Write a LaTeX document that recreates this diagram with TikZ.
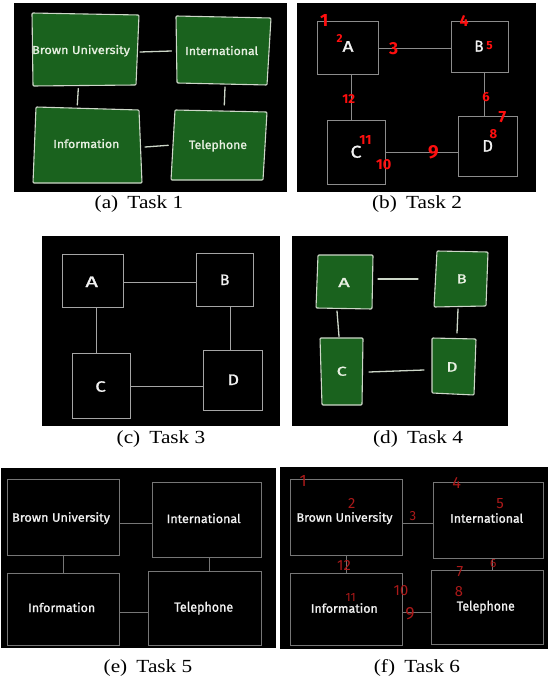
\documentclass[tikz,border=0pt]{standalone}
\usepackage{fontspec}
\setmainfont{Liberation Serif}
\newfontfamily\lblfont{Fira Sans}[FakeBold=1.2]
\newfontfamily\numfont{Fira Sans}
\definecolor{boardgreen}{RGB}{26,98,30}
\definecolor{chalk}{RGB}{205,215,200}
\definecolor{chalktext}{RGB}{232,240,226}
\definecolor{wireb}{RGB}{140,140,140}
\definecolor{wirec}{RGB}{165,165,165}
\definecolor{wiree}{RGB}{118,118,118}
\definecolor{penb}{RGB}{255,15,15}
\definecolor{penf}{RGB}{170,25,25}
\newcommand\fitlbl[3]{\resizebox{#1pt}{#2pt}{\lblfont #3}}
\newcommand\hnum[2]{\resizebox{!}{#1pt}{\numfont\bfseries #2}}
\newcommand\tnum[2]{\resizebox{!}{#1pt}{\numfont #2}}
\newcommand\capt[1]{\scalebox{1.15}[1]{\fontsize{18.5}{20}\selectfont #1}}
\tikzset{
  panel/.style={fill=black, draw=none},
  greenbox/.style={fill=boardgreen, draw=chalk, line width=1.1pt, line join=round, rounded corners=1pt},
  chalkline/.style={draw=chalk, line width=1.3pt, line cap=round},
  wirebox/.style={draw=wireb, line width=0.8pt, inner sep=0pt, outer sep=0pt},
  wireline/.style={draw=wireb, line width=0.8pt},
  wireboxc/.style={draw=wirec, line width=1pt, inner sep=0pt, outer sep=0pt},
  wirelinec/.style={draw=wirec, line width=1pt},
  wireboxe/.style={draw=wiree, line width=1pt, inner sep=0pt, outer sep=0pt},
  wirelinee/.style={draw=wiree, line width=1pt},
  lbl/.style={inner sep=0pt, anchor=base, text=chalktext},
  wlbl/.style={inner sep=0pt, anchor=base, text=white!90!gray},
  rednum/.style={inner sep=0pt, text=penb},
  thinnum/.style={inner sep=0pt, text=penf},
  capnode/.style={inner sep=0pt, anchor=base},
}
\begin{document}
\begin{tikzpicture}[x=1pt,y=-1pt]
\useasboundingbox (0,0) rectangle (550,679);
\fill[white] (0,0) rectangle (550,679);
% panel backgrounds
\fill[panel] (14,3) rectangle (287,192);
\fill[panel] (297,3) rectangle (536,192);
\fill[panel] (42,236) rectangle (280,426);
\fill[panel] (292,236) rectangle (508,426);
\fill[panel] (1,468) rectangle (276,648);
\fill[panel] (280,467) rectangle (548,649);

% ---------------- (a) Task 1
\draw[greenbox] (32,13) -- (139,15) -- (136,85) -- (33,86) -- cycle;
\draw[greenbox] (176,16) -- (271,18) -- (267,85) -- (177,83) -- cycle;
\draw[greenbox] (36,107) -- (139,110) -- (142,183) -- (33,183) -- cycle;
\draw[greenbox] (175,110) -- (267,112) -- (263,180) -- (171,180) -- cycle;
\node[lbl] (aBU) at (81,54) {\fitlbl{98}{9}{Brown University}};
\node[lbl] (aIN) at (221.7,55) {\fitlbl{73}{9}{International}};
\node[lbl] (aIF) at (86.3,148) {\fitlbl{66}{9}{Information}};
\node[lbl] (aTE) at (218,149) {\fitlbl{58}{9}{Telephone}};
\coordinate (a1s) at (140,52);   \coordinate (a1e) at (171.5,51);
\coordinate (a2s) at (78.3,88.5); \coordinate (a2e) at (77.3,105);
\coordinate (a3s) at (225,87);   \coordinate (a3e) at (224.3,105);
\coordinate (a4s) at (145,147);  \coordinate (a4e) at (168.3,145.3);
\draw[chalkline] (a1s) -- (a1e);
\draw[chalkline] (a2s) -- (a2e);
\draw[chalkline] (a3s) -- (a3e);
\draw[chalkline] (a4s) -- (a4e);
\node[capnode] (capa) at (139,208) {\capt{(a)\hspace{8pt}Task 1}};

% ---------------- (b) Task 2
\node[wirebox, minimum width=61pt, minimum height=53pt] (bA) at (347.5,47.5) {};
\node[wirebox, minimum width=57pt, minimum height=51pt] (bB) at (479.5,46.5) {};
\node[wirebox, minimum width=58pt, minimum height=64pt] (bC) at (356,152) {};
\node[wirebox, minimum width=59pt, minimum height=60pt] (bD) at (487.5,146) {};
\draw[wireline] (bA.east |- 0,48) -- (bB.west |- 0,48);
\draw[wireline] (bA.south -| 351,0) -- (bC.north -| 351,0);
\draw[wireline] (bB.south -| 484.5,0) -- (bD.north -| 484.5,0);
\draw[wireline] (bC.east |- 0,152) -- (bD.west |- 0,152);
\node[wlbl] (bAl) at (348,51.7) {\fitlbl{11}{10.5}{A}};
\node[wlbl] (bBl) at (479,51.7) {\fitlbl{9}{11}{B}};
\node[wlbl] (bCl) at (356,157.7) {\fitlbl{11}{12}{C}};
\node[wlbl] (bDl) at (487.7,151.7) {\fitlbl{10.5}{11.5}{D}};
\node[rednum] (b1) at (324.3,20.3) {\hnum{12}{1}};
\node[rednum] (b2) at (339.5,39) {\hnum{8}{2}};
\node[rednum] (b3) at (393.7,48.8) {\hnum{12}{3}};
\node[rednum] (b4) at (464,21) {\hnum{11}{4}};
\node[rednum] (b5) at (489.5,45.8) {\hnum{8}{5}};
\node[rednum] (b6) at (486,97.2) {\hnum{9}{6}};
\node[rednum] (b7) at (502.3,116.8) {\hnum{11}{7}};
\node[rednum] (b8) at (493.5,134) {\hnum{9}{8}};
\node[rednum] (b9) at (433.3,152) {\hnum{13}{9}};
\node[rednum] (b10) at (383.7,165) {\hnum{10}{10}};
\node[rednum] (b11) at (365.5,140.5) {\hnum{9}{11}};
\node[rednum] (b12) at (348.8,98.8) {\hnum{9}{12}};
\node[capnode] (capb) at (417,208) {\capt{(b)\hspace{8pt}Task 2}};

% ---------------- (c) Task 3
\node[wireboxc, minimum width=61pt, minimum height=53pt] (cA) at (92.5,280.5) {};
\node[wireboxc, minimum width=57pt, minimum height=53pt] (cB) at (224.5,279.5) {};
\node[wireboxc, minimum width=58pt, minimum height=65pt] (cC) at (101,385.5) {};
\node[wireboxc, minimum width=59pt, minimum height=60pt] (cD) at (232.5,380) {};
\draw[wirelinec] (cA.east |- 0,282) -- (cB.west |- 0,282);
\draw[wirelinec] (cA.south -| 96,0) -- (cC.north -| 96,0);
\draw[wirelinec] (cB.south -| 230,0) -- (cD.north -| 230,0);
\draw[wirelinec] (cC.east |- 0,386) -- (cD.west |- 0,386);
\node[wlbl] (cAl) at (91.7,287) {\fitlbl{12.5}{10.5}{A}};
\node[wlbl] (cBl) at (224.7,285) {\fitlbl{9.5}{10.5}{B}};
\node[wlbl] (cCl) at (100.5,391.7) {\fitlbl{10.5}{10.5}{C}};
\node[wlbl] (cDl) at (233.3,385) {\fitlbl{11.5}{10.5}{D}};
\node[capnode] (capc) at (161,443) {\capt{(c)\hspace{8pt}Task 3}};

% ---------------- (d) Task 4
\draw[greenbox] (318,255) -- (373,255) -- (372,309) -- (316,308) -- cycle;
\draw[greenbox] (437,251) -- (488,252) -- (486,306) -- (434,307) -- cycle;
\draw[greenbox] (320,338) -- (363,338) -- (362,405) -- (322,405) -- cycle;
\draw[greenbox] (432,338) -- (476,339) -- (474,395) -- (432,393) -- cycle;
\node[lbl] (dAl) at (344,287) {\fitlbl{11.5}{9}{A}};
\node[lbl] (dBl) at (461.7,283.3) {\fitlbl{10}{9}{B}};
\node[lbl] (dCl) at (341.7,375.7) {\fitlbl{10}{9}{C}};
\node[lbl] (dDl) at (452,371.7) {\fitlbl{11}{9.5}{D}};
\coordinate (d1s) at (378,279);  \coordinate (d1e) at (418,279);
\coordinate (d2s) at (337,311);  \coordinate (d2e) at (339,336.5);
\coordinate (d3s) at (458,309);  \coordinate (d3e) at (457,333);
\coordinate (d4s) at (369,372);  \coordinate (d4e) at (424,370);
\draw[chalkline] (d1s) -- (d1e);
\draw[chalkline] (d2s) -- (d2e);
\draw[chalkline] (d3s) -- (d3e);
\draw[chalkline] (d4s) -- (d4e);
\node[capnode] (capd) at (418,443) {\capt{(d)\hspace{8pt}Task 4}};

% ---------------- (e) Task 5
\node[wireboxe, minimum width=112pt, minimum height=76pt] (eBU) at (63,517) {};
\node[wireboxe, minimum width=109pt, minimum height=75pt] (eIN) at (206.5,519.5) {};
\node[wireboxe, minimum width=112pt, minimum height=72pt] (eIF) at (63,609) {};
\node[wireboxe, minimum width=113pt, minimum height=74pt] (eTE) at (204.5,608) {};
\draw[wirelinee] (eBU.east |- 0,523) -- (eIN.west |- 0,523);
\draw[wirelinee] (eBU.south -| 63,0) -- (eIF.north -| 63,0);
\draw[wirelinee] (eIN.south -| 209,0) -- (eTE.north -| 209,0);
\draw[wirelinee] (eIF.east |- 0,612) -- (eTE.west |- 0,612);
\node[wlbl] (eBUl) at (61,521.7) {\fitlbl{98}{9.5}{Brown University}};
\node[wlbl] (eINl) at (203.7,523) {\fitlbl{74}{9.5}{International}};
\node[wlbl] (eIFl) at (61.7,612) {\fitlbl{67}{9.5}{Information}};
\node[wlbl] (eTEl) at (203.7,611.7) {\fitlbl{59}{10}{Telephone}};
\node[capnode] (cape) at (148,672) {\capt{(e)\hspace{8pt}Task 5}};

% ---------------- (f) Task 6
\node[wireboxe, minimum width=112pt, minimum height=76pt] (fBU) at (346,517) {};
\node[wireboxe, minimum width=110pt, minimum height=76pt] (fIN) at (488,520) {};
\node[wireboxe, minimum width=112pt, minimum height=72pt] (fIF) at (346,609) {};
\node[wireboxe, minimum width=112pt, minimum height=74pt] (fTE) at (487,607) {};
\draw[wirelinee] (fBU.east |- 0,523) -- (fIN.west |- 0,523);
\draw[wirelinee] (fBU.south -| 346,0) -- (fIF.north -| 346,0);
\draw[wirelinee] (fIN.south -| 492,0) -- (fTE.north -| 492,0);
\draw[wirelinee] (fIF.east |- 0,612) -- (fTE.west |- 0,612);
\node[wlbl] (fBUl) at (344.5,521.7) {\fitlbl{96}{9.5}{Brown University}};
\node[wlbl] (fINl) at (486.7,522.7) {\fitlbl{73}{9.5}{International}};
\node[wlbl] (fIFl) at (344.3,612.7) {\fitlbl{67}{9.5}{Information}};
\node[wlbl] (fTEl) at (485.8,610.7) {\fitlbl{58}{10}{Telephone}};
\node[thinnum] (f1) at (303.3,481) {\tnum{11}{1}};
\node[thinnum] (f2) at (351.7,503) {\tnum{10}{2}};
\node[thinnum] (f3) at (413,516.5) {\tnum{9}{3}};
\node[thinnum] (f4) at (456.7,483.3) {\tnum{11}{4}};
\node[thinnum] (f5) at (500,503.5) {\tnum{10}{5}};
\node[thinnum] (f6) at (493.3,563.3) {\tnum{8}{6}};
\node[thinnum] (f7) at (460,571.7) {\tnum{10}{7}};
\node[thinnum] (f8) at (459,592) {\tnum{10}{8}};
\node[thinnum] (f9) at (410,613.3) {\tnum{12}{9}};
\node[thinnum] (f10) at (401,590.7) {\tnum{10}{10}};
\node[thinnum] (f11) at (350.7,597) {\tnum{8}{11}};
\node[thinnum] (f12) at (344,565) {\tnum{10}{12}};
\node[capnode] (capf) at (417,672) {\capt{(f)\hspace{8pt}Task 6}};
\end{tikzpicture}
\end{document}
